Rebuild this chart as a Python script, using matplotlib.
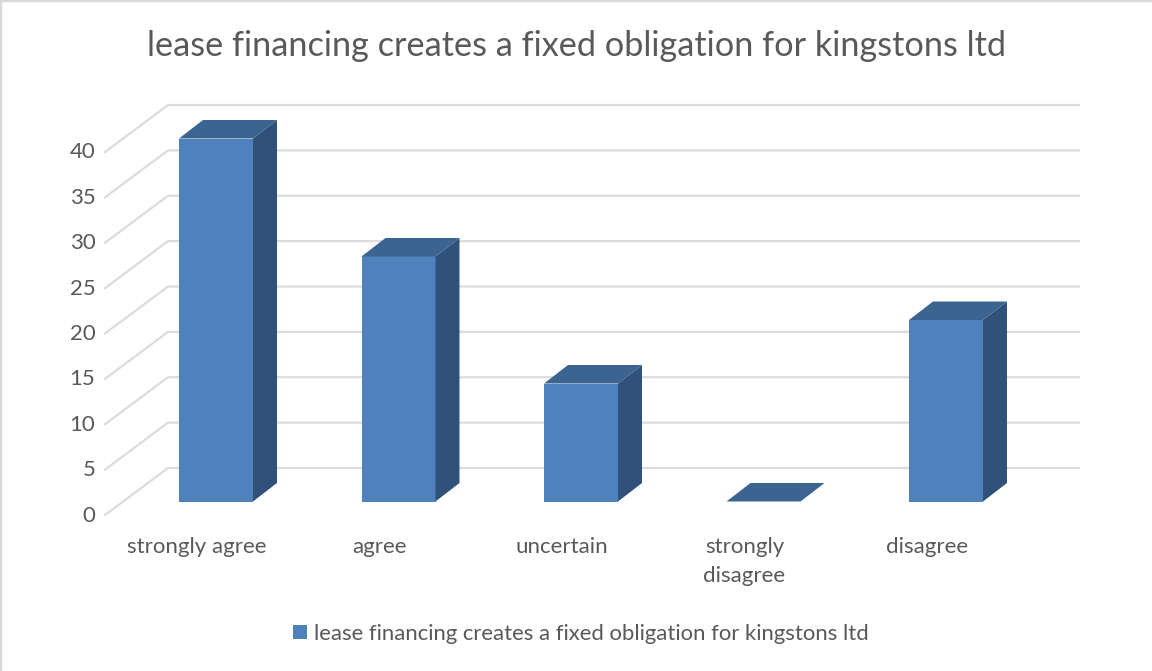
import matplotlib
matplotlib.use('Agg')
import matplotlib.pyplot as plt
from matplotlib.lines import Line2D
from matplotlib.patches import Polygon

plt.rcParams['font.family'] = ['Lato', 'DejaVu Sans']

categories = ['strongly agree', 'agree', 'uncertain', 'strongly\ndisagree', 'disagree']
values = [40, 27, 13, 0, 20]
grid_values = [0, 5, 10, 15, 20, 25, 30, 35, 40]
title = 'lease financing creates a fixed obligation for kingstons ltd'

W, H = 1152, 671
# pixel scale of the chart
px_cat = 182.5
px_val = 9.075
x0_px, y0_px = 216, 501.5   # centre of first bar, foot of bars
left, right, top, bottom = 105, 1079, 105, 515

front_col = '#4f81bd'
top_col = '#3c6491'
side_col = '#30527a'
grid_col = '#dcdcdc'
text_col = '#595959'

fig = plt.figure(figsize=(W / 100, H / 100), dpi=100)
# frame of the source only shows on the top and left edges
fig.add_artist(Line2D([0, 0, 1], [0, 1, 1], transform=fig.transFigure, color='#d9d9d9', lw=2.5))
ax = fig.add_axes([left / W, 1 - bottom / H, (right - left) / W, (bottom - top) / H])
ax.set_xlim((left - x0_px) / px_cat, (right - x0_px) / px_cat)
ax.set_ylim((y0_px - bottom) / px_val, (y0_px - top) / px_val)
ax.patch.set_alpha(0)
for s in ax.spines.values():
    s.set_visible(False)

# depth offsets, data units
bar_w = 74 / px_cat
dx = 24 / px_cat
dy = 18.5 / px_val
xa = ax.get_xlim()[0]
xb = xa + 63 / px_cat
ya = ax.get_ylim()[0]
wall_dy = 47 / px_val

# walls
for v in grid_values:
    ax.plot([xa, xb, ax.get_xlim()[1]], [ya + v, ya + v + wall_dy, ya + v + wall_dy],
            color=grid_col, lw=1.6, zorder=1, clip_on=False, solid_joinstyle='miter')

# bars
xs = list(range(len(categories)))
bars = ax.bar(xs, values, width=bar_w, color=front_col, linewidth=0, zorder=3, label=title)
for x, v in zip(xs, values):
    l = x - bar_w / 2
    r = x + bar_w / 2
    if v > 0:
        ax.add_patch(Polygon([(r, 0), (r + dx, dy), (r + dx, v + dy), (r, v)],
                             closed=True, fc=side_col, ec='none', zorder=3))
    ax.add_patch(Polygon([(l, v), (r, v), (r + dx, v + dy), (l + dx, v + dy)],
                         closed=True, fc=top_col, ec='none', zorder=3))

ax.set_yticks([v + ya + 1.5 / px_val for v in grid_values], [str(v) for v in grid_values])
ax.set_xticks([x - 19 / px_cat for x in xs], categories)
ax.tick_params(axis='y', length=0, pad=7, labelsize=16, labelcolor=text_col)
ax.tick_params(axis='x', length=0, pad=16, labelsize=16, labelcolor=text_col)
for lab in ax.get_xticklabels():
    lab.set_linespacing(1.55)

fig.text(576.5 / W, 1 - 46 / H, title, ha='center', va='center', fontsize=24.65, color=text_col)

fig.legend(handles=[bars], loc='center', bbox_to_anchor=(581 / W, 1 - 634 / H), frameon=False,
           fontsize=15.9, labelcolor=text_col, handlelength=0.62, handleheight=0.62,
           handletextpad=0.3)

fig.savefig('out.png', dpi=100)
